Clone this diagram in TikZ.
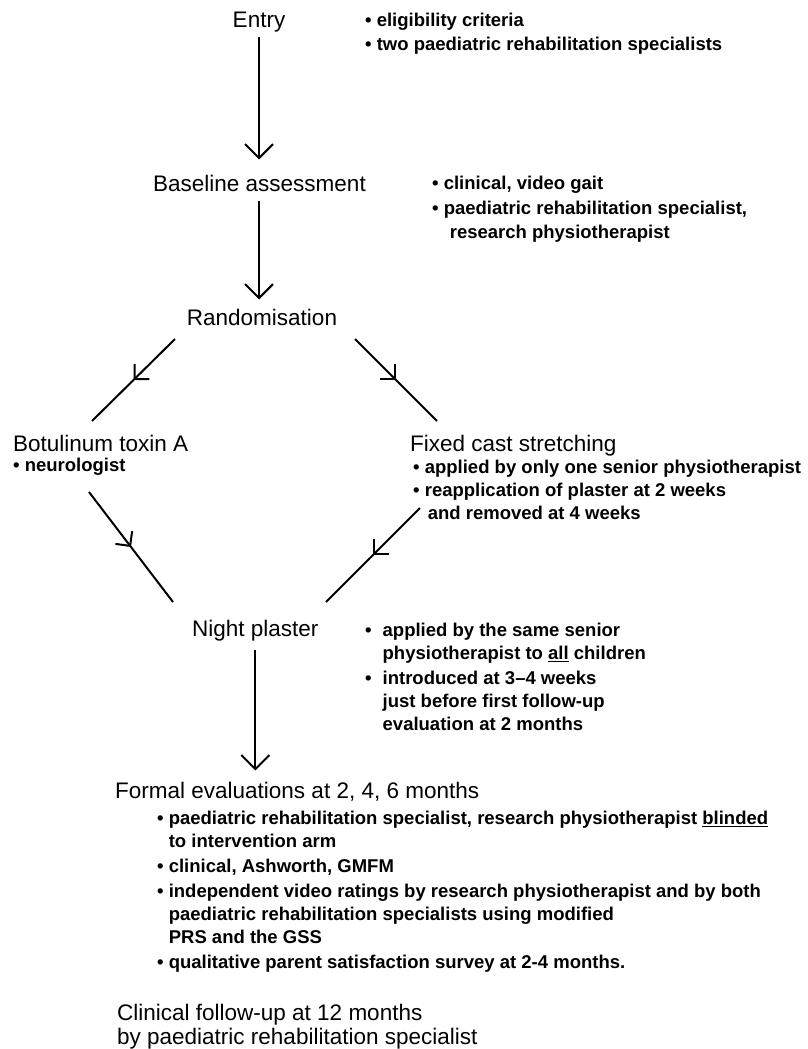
\documentclass[tikz,border=0pt]{standalone}
\usepackage{fontspec}
\setmainfont{Liberation Sans}
\usetikzlibrary{arrows.meta,decorations.markings}
\begin{document}
\begin{tikzpicture}[x=1pt,y=-1pt,
  lab/.style={font=\fontsize{22.5}{23.5}\selectfont, inner sep=0pt, align=left},
  blist/.style={font=\fontsize{18.5}{23}\selectfont\bfseries, inner sep=0pt, align=left, anchor=base west},
  conn/.style={line width=2pt},
  varrow/.style={conn, -{Straight Barb[length=14pt,width=28pt]}},
  midarrow/.style={conn, postaction={decorate},
    decoration={markings, mark=at position 0.5 with {\arrow{Straight Barb[length=10.5pt,width=21pt]}}}}]
\fill[white] (0,0) rectangle (807,1049);
\useasboundingbox (0,0) rectangle (807,1049);

% main labels (multi-line nodes: base = baseline of last line)
\node[lab, anchor=base] (entry) at (259,28) {Entry};
\node[lab, anchor=base west] (base) at (153,191) {Baseline assessment};
\node[lab, anchor=base] (rand) at (262,325) {Randomisation};
\node[lab, anchor=base west] (bot) at (13,451) {Botulinum toxin A};
\node[lab, anchor=base west] (fix) at (410,451) {Fixed cast stretching};
\node[lab, anchor=base west] (night) at (192,636) {Night plaster};
\node[lab, anchor=base west] (formal) at (115,798) {Formal evaluations at 2, 4, 6 months};
\node[lab, anchor=base west] (clin) at (117,1044) {Clinical follow-up at 12 months\\ by paediatric rehabilitation specialist};

% bullet lists
\node[blist] (entryb) at (365,51) {• eligibility criteria\\[1.5pt] • two paediatric rehabilitation specialists};
\node[blist] (baseb) at (432,238.5) {• clinical, video gait\\[2pt] • paediatric rehabilitation specialist,\\[1pt] \hphantom{• }\hspace*{6pt}research physiotherapist};
\node[blist] (botb) at (13,471.5) {• neurologist};
\node[blist] (fixb) at (413,519.5) {• applied by only one senior physiotherapist\\ • reapplication of plaster at 2 weeks\\ \hphantom{• }\hspace*{3pt}and removed at 4 weeks};
\node[blist] (nightb) at (365,730.5) {•\hspace*{11pt}applied by the same senior\\ \hphantom{•}\hspace*{11pt}physiotherapist to \underline{all} children\\[2pt] •\hspace*{11pt}introduced at 3--4 weeks\\ \hphantom{•}\hspace*{11pt}just before first follow-up\\ \hphantom{•}\hspace*{11pt}evaluation at 2 months};
\node[blist] (formalb) at (157,968.5) {• paediatric rehabilitation specialist, research physiotherapist \underline{blinded}\\ \hphantom{• }to intervention arm\\[2pt] • clinical, Ashworth, GMFM\\[2pt] • independent video ratings by research physiotherapist and by both\\ \hphantom{• }paediatric rehabilitation specialists using modified\\ \hphantom{• }PRS and the GSS\\[2pt] • qualitative parent satisfaction survey at 2-4 months.};

% vertical connectors
\draw[varrow, shorten <=4pt, shorten >=15pt] (entry.south) -- (entry.south |- base.north);
\draw[varrow, shorten <=10pt, shorten >=9pt] (entry.south |- base.south) -- (entry.south |- rand.north);
\draw[varrow, shorten <=9pt, shorten >=11pt] (night.south) -- (night.south |- formal.north);

% diagonal connectors
\coordinate (d1a) at (175,339);
\coordinate (d1b) at (92,421);
\coordinate (d2a) at (355,339);
\coordinate (d2b) at (437,421);
\coordinate (d3a) at (89,492);
\coordinate (d3b) at (173,602);
\coordinate (d4a) at (420,508);
\coordinate (d4b) at (326,602);
\draw[midarrow] (d1a) -- (d1b);
\draw[midarrow] (d2a) -- (d2b);
\draw[midarrow] (d3a) -- (d3b);
\draw[midarrow] (d4a) -- (d4b);
\end{tikzpicture}
\end{document}
